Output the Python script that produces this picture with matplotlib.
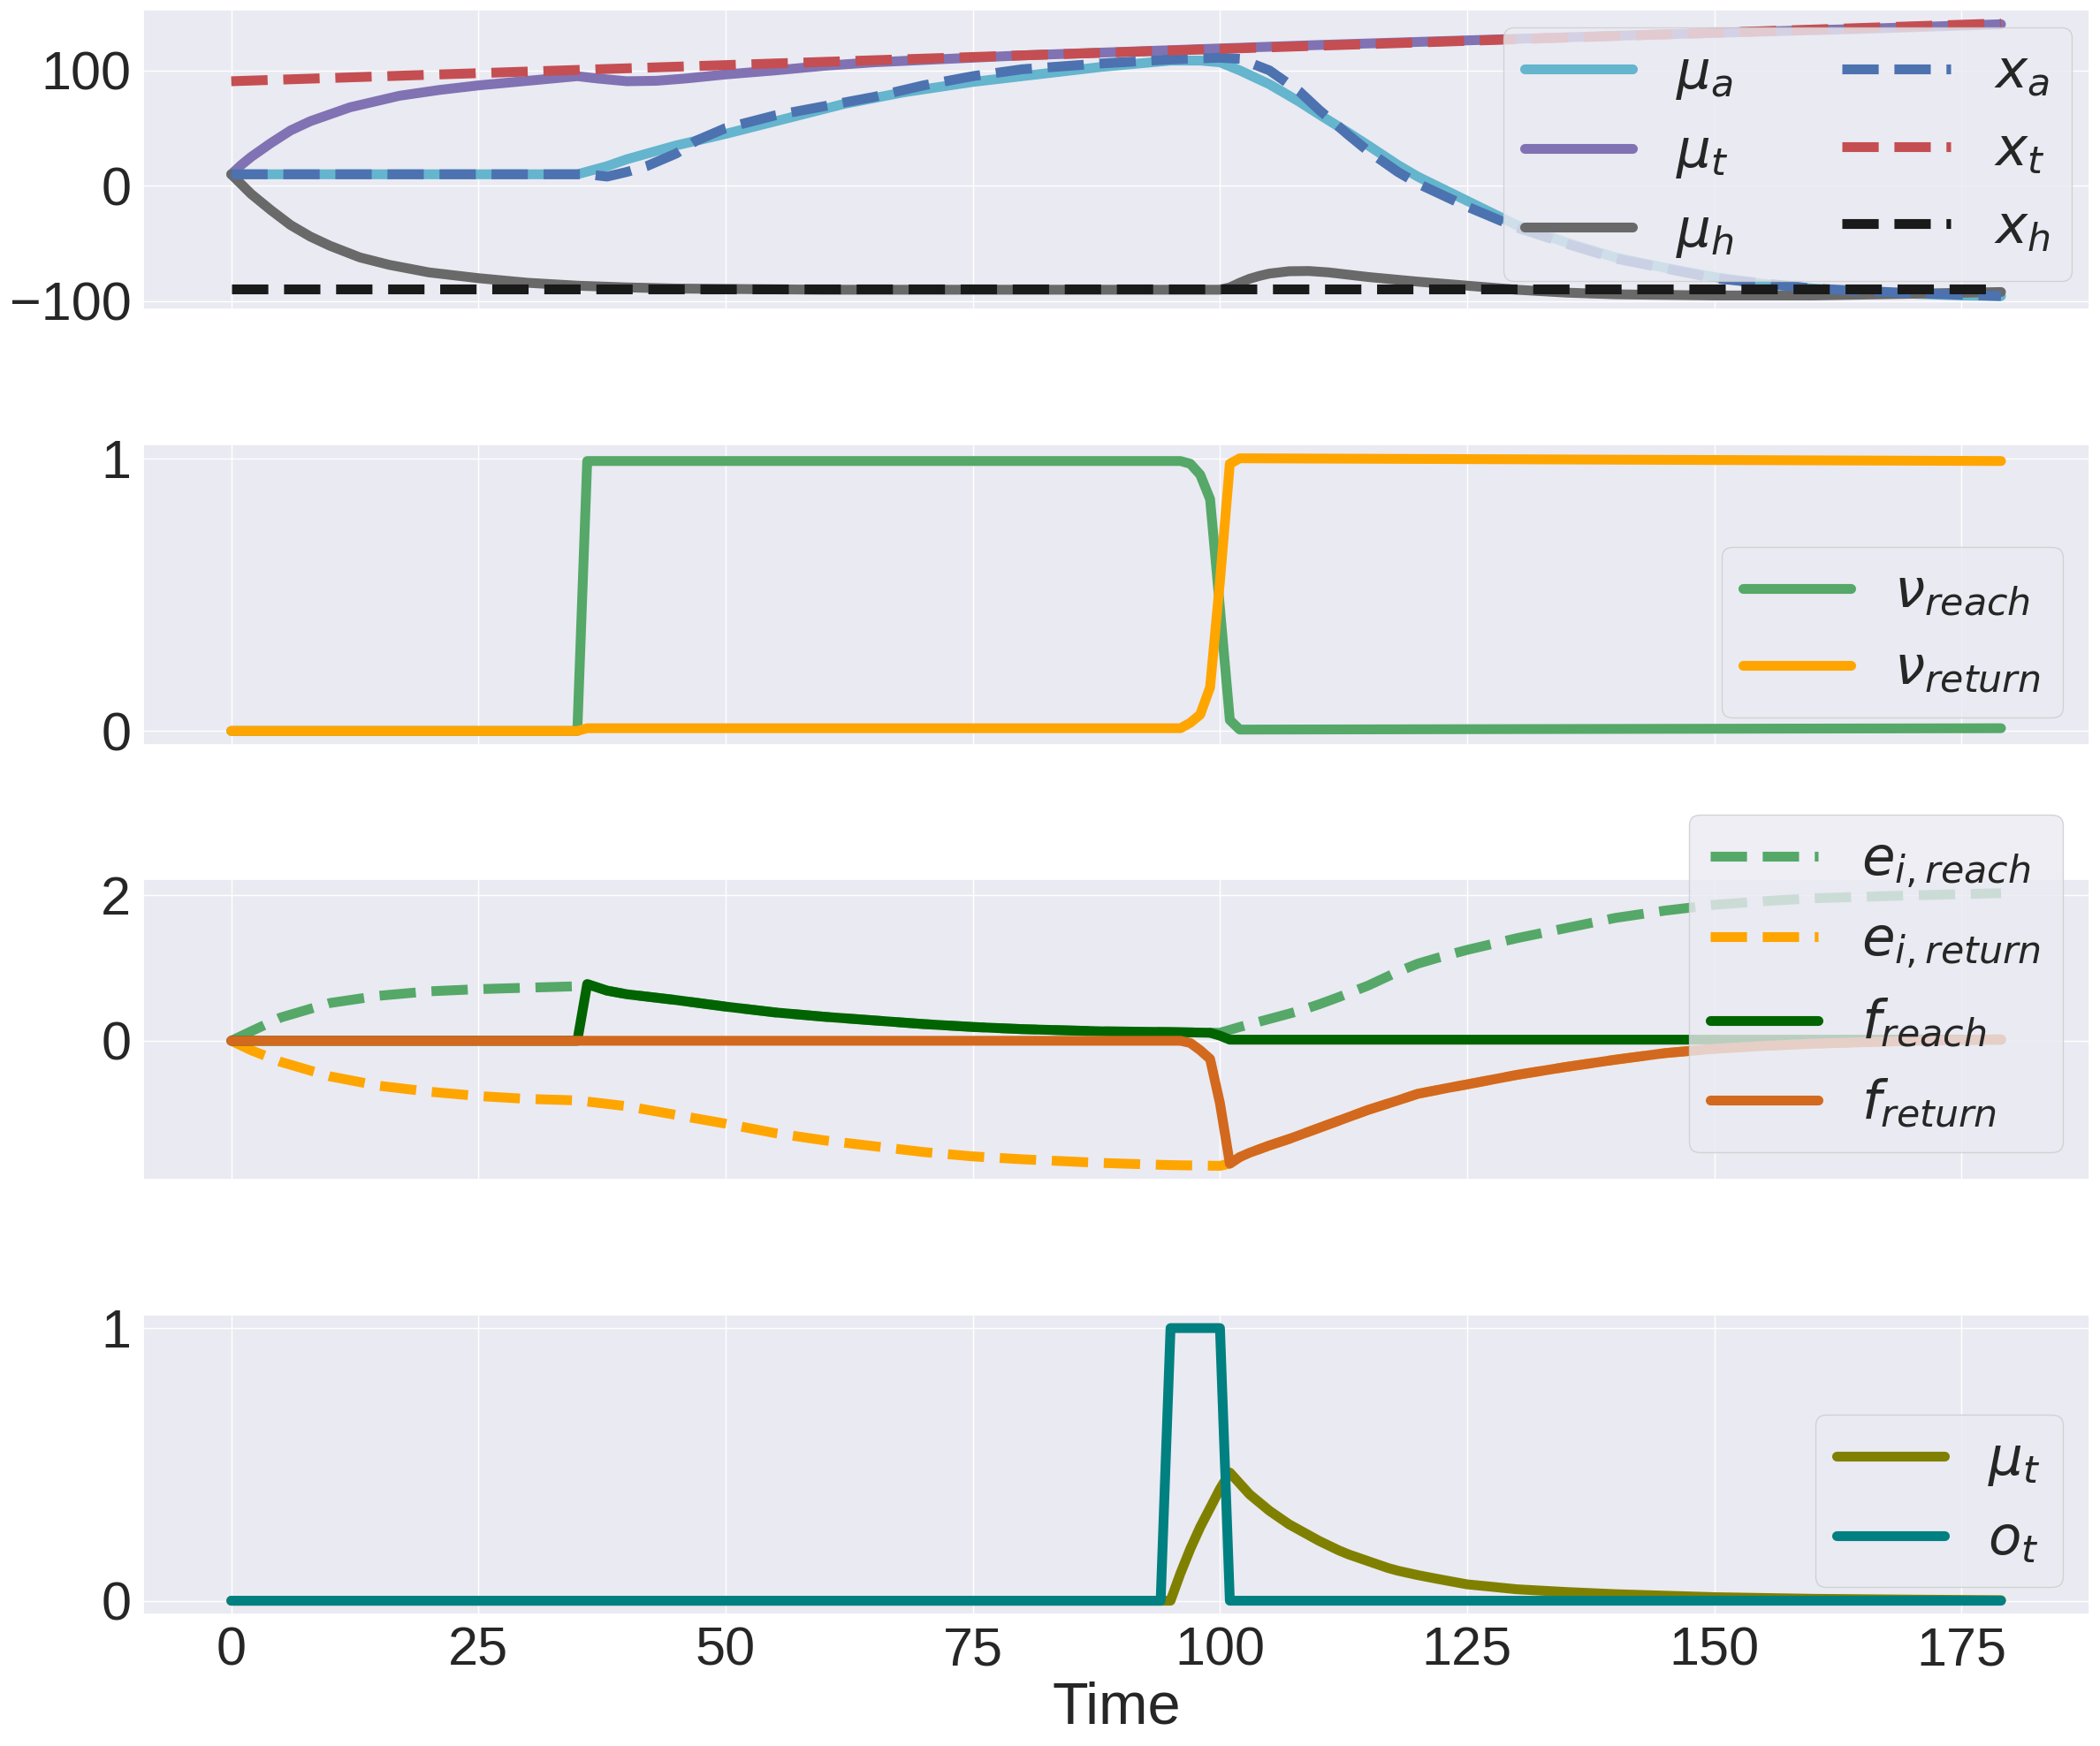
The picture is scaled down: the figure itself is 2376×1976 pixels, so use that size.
import numpy as np
import matplotlib
matplotlib.use("Agg")
import matplotlib.pyplot as plt
import seaborn as sns

# Values (time steps 0..179)

# ---- panel 1: positions ----
t_x_t = [0, 179]
x_t = [90.6, 140.7]

t_mu_t = [0, 1, 2, 4, 6, 8, 10, 12, 14, 17, 21, 25, 30, 35, 37, 40, 43, 46, 50, 55, 60, 65, 70, 75,
          80, 90, 100, 110, 125, 140, 150, 165, 179]
mu_t = [10, 18, 25, 37, 48, 56, 62, 68, 72, 78, 83, 87, 91, 95, 93, 90.6, 91, 93, 96.5, 100, 104,
        107, 109, 111, 113, 116, 119, 122, 126, 130, 132.5, 136, 140]

t_mu_a = [0, 35, 38, 40, 45, 50, 56, 62, 68, 75, 82, 88, 95, 98, 100, 102, 105, 108, 110, 113, 115,
          118, 120, 125, 130, 135, 140, 145, 150, 155, 160, 165, 170, 175, 179]
mu_a = [10, 10, 17, 23, 35, 45, 58, 71, 81, 90, 97, 103, 108.5, 108.5, 107, 100, 88, 73, 62, 46, 35,
        18, 8, -13, -34, -49, -62, -71, -79, -85, -89, -92, -93.5, -95, -95.5]

t_x_a = [0, 36, 38, 40, 42, 45, 47, 50, 55, 60, 65, 70, 75, 80, 88, 95, 100, 102, 105, 108, 110,
         113, 115, 118, 120, 125, 130, 135, 140, 150, 160, 170, 179]
x_a = [10, 10, 8, 12, 17, 28, 39, 50, 61, 69, 77, 87, 95, 101, 106, 109.5, 111, 110, 100, 82, 66,
       44, 30, 12, 2, -18, -36, -50, -63, -80, -89, -93, -95.5]

t_mu_h = [0, 1, 2, 4, 6, 8, 10, 13, 16, 20, 25, 30, 35, 40, 45, 60, 100, 101, 102, 103, 104, 105,
          107, 109, 111, 115, 120, 125, 130, 135, 140, 150, 160, 170, 179]
mu_h = [10, 1.5, -7, -21, -34, -44, -52, -62, -68.5, -75, -80, -84, -86.5, -88, -89, -90, -90, -88,
        -84, -80.5, -78, -76, -74, -73.8, -75, -79, -83, -86.5, -90, -92.5, -94, -95, -95, -93.5,
        -92]

t_x_h = [0, 179]
x_h = [-89.5, -89.5]

# ---- panel 2: nu ----
t_nu = [0, 35, 36, 96, 97, 98, 99, 100, 101, 102, 179]
nu_reach = [0, 0, 0.99, 0.99, 0.98, 0.94, 0.85, 0.45, 0.04, 0.005, 0.01]
nu_return = [0, 0, 0.01, 0.01, 0.03, 0.06, 0.16, 0.55, 0.98, 1.0, 0.99]

# ---- panel 3: e and f ----
t_f_reach = [0, 35, 36, 38, 40, 45, 50, 55, 60, 65, 70, 75, 80, 88, 95, 99, 100, 101, 179]
f_reach = [0, 0, 0.78, 0.69, 0.64, 0.56, 0.47, 0.39, 0.33, 0.28, 0.23, 0.19, 0.16, 0.13, 0.12,
           0.11, 0.07, 0.015, 0.015]

t_e_reach = [0, 2, 5, 10, 15, 20, 25, 30, 35, 36, 38, 40, 45, 50, 55, 60, 65, 70, 75, 80, 88, 95,
             100, 102, 105, 108, 110, 112, 115, 118, 120, 122, 125, 130, 135, 140, 145, 150, 155,
             160, 170, 179]
e_reach = [0, 0.13, 0.32, 0.52, 0.62, 0.68, 0.71, 0.73, 0.75, 0.78, 0.69, 0.64, 0.56, 0.47, 0.39,
           0.33, 0.28, 0.23, 0.19, 0.16, 0.13, 0.12, 0.11, 0.19, 0.3, 0.41, 0.5, 0.6, 0.76, 0.95,
           1.06, 1.14, 1.25, 1.41, 1.55, 1.69, 1.79, 1.87, 1.92, 1.96, 2.0, 2.03]

t_f_return = [0, 96, 97, 98, 99, 100, 101, 102, 103, 105, 107, 110, 113, 115, 118, 120, 123, 125,
              130, 135, 140, 145, 150, 155, 160, 170, 179]
f_return = [0, 0, -0.03, -0.13, -0.25, -0.86, -1.69, -1.6, -1.54, -1.44, -1.35, -1.2, -1.05,
            -0.95, -0.82, -0.73, -0.65, -0.6, -0.47, -0.36, -0.26, -0.17, -0.11, -0.07, -0.04,
            0.0, 0.02]

t_e_return = [0, 2, 5, 10, 15, 20, 25, 30, 35, 40, 45, 50, 55, 60, 65, 70, 75, 80, 88, 95, 100,
              101, 102, 103, 105, 107, 110, 113, 115, 118, 120, 123, 125, 130, 135, 140, 145,
              150, 155, 160, 170, 179]
e_return = [0, -0.13, -0.29, -0.49, -0.62, -0.70, -0.76, -0.80, -0.82, -0.9, -1.02, -1.14, -1.27,
            -1.37, -1.45, -1.53, -1.59, -1.63, -1.68, -1.71, -1.72, -1.69, -1.6, -1.54, -1.44,
            -1.35, -1.2, -1.05, -0.95, -0.82, -0.73, -0.65, -0.6, -0.47, -0.36, -0.26, -0.17,
            -0.11, -0.07, -0.04, 0.0, 0.02]

# ---- panel 4: mu_t and o_t ----
t_o = [0, 94, 95, 100, 101, 179]
o_t = [0, 0, 1, 1, 0, 0]

t_mu_t4 = [0, 95, 96, 97, 98, 99, 100, 101, 102, 103, 104, 105, 106, 107, 108, 109, 110, 112, 113,
           115, 117, 118, 120, 122, 125, 127, 130, 135, 140, 150, 160, 170, 179]
mu_t4 = [0, 0, 0.1, 0.19, 0.27, 0.34, 0.41, 0.47, 0.43, 0.39, 0.36, 0.33, 0.305, 0.28, 0.26, 0.24,
         0.22, 0.185, 0.17, 0.145, 0.12, 0.11, 0.094, 0.08, 0.06, 0.053, 0.042, 0.032, 0.024,
         0.013, 0.007, 0.004, 0.002]

########## style ##########
sns.set_theme(style="darkgrid", font_scale=4)
plt.rcParams['font.family'] = ['sans-serif']
plt.rcParams['font.sans-serif'] = ['Liberation Sans', 'DejaVu Sans']

lw = 8
fig, axes = plt.subplots(4, 1, figsize=(23.76, 19.76), dpi=100, sharex=True)
fig.subplots_adjust(left=0.068, right=0.995, bottom=0.0754, top=0.9944, hspace=0.45)

# panel 1
ax = axes[0]
ax.plot(t_mu_a, mu_a, color='c', lw=lw, label=r'$\mu_a$')
ax.plot(t_mu_t, mu_t, color='m', lw=lw, label=r'$\mu_t$')
ax.plot(t_mu_h, mu_h, color='dimgray', lw=lw, label=r'$\mu_h$')
ax.plot(t_x_a, x_a, color='b', lw=lw, ls='--', label=r'$x_a$')
ax.plot(t_x_t, x_t, color='r', lw=lw, ls='--', label=r'$x_t$')
ax.plot(t_x_h, x_h, color='k', lw=lw, ls='--', label=r'$x_h$')
ax.set_yticks([-100, 0, 100])
ax.legend(loc='upper right', ncol=2, borderaxespad=0.33)

# panel 2
ax = axes[1]
ax.plot(t_nu, nu_reach, color='g', lw=lw, label=r'$\nu_{reach}$')
ax.plot(t_nu, nu_return, color='orange', lw=lw, label=r'$\nu_{return}$')
ax.set_yticks([0, 1])
ax.legend(loc='lower right')

# panel 3
ax = axes[2]
ax.plot(t_e_reach, e_reach, color='g', lw=lw, ls='--', label=r'$e_{i,reach}$')
ax.plot(t_e_return, e_return, color='orange', lw=lw, ls='--', label=r'$e_{i,return}$')
ax.plot(t_f_reach, f_reach, color='darkgreen', lw=lw, label=r'$f_{reach}$')
ax.plot(t_f_return, f_return, color='chocolate', lw=lw, label=r'$f_{return}$')
ax.set_yticks([0, 2])
ax.legend(loc='lower right')

# panel 4
ax = axes[3]
ax.plot(t_mu_t4, mu_t4, color='olive', lw=lw, label=r'$\mu_t$')
ax.plot(t_o, o_t, color='teal', lw=lw, label=r'$o_t$')
ax.set_yticks([0, 1])
ax.set_xticks([0, 25, 50, 75, 100, 125, 150, 175])
ax.set_xlabel('Time')
ax.legend(loc='lower right')

plt.savefig('out.png', dpi=100)
